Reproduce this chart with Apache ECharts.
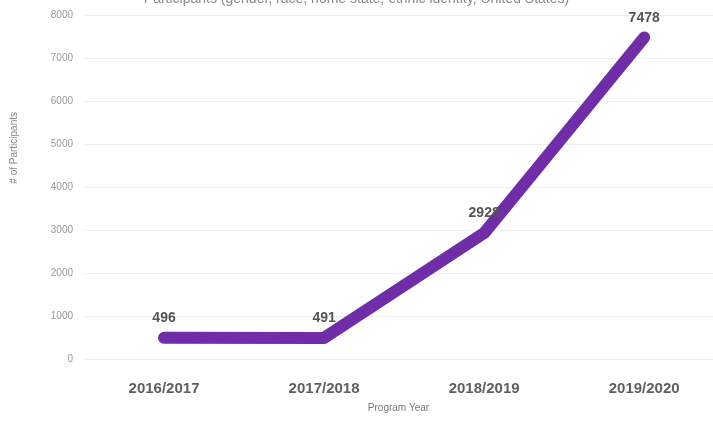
<!DOCTYPE html>
<html>
<head>
<meta charset="utf-8">
<script src="https://cdn.jsdelivr.net/npm/echarts@6/dist/echarts.min.js"></script>
<style>
  html, body { margin: 0; padding: 0; background: #fff; }
  #main { width: 713px; height: 425px; }
</style>
</head>
<body>
<div id="main"></div>
<script>
// program years and participant counts
var years = ["2016/2017", "2017/2018", "2018/2019", "2019/2020"];
var participants = [496, 491, 2928, 7478];
var yTicks = [0, 1000, 2000, 3000, 4000, 5000, 6000, 7000, 8000];

var points = participants.map(function (v, i) { return [i, v]; });

var chart = echarts.init(document.getElementById("main"));
chart.setOption({
  animation: false,
  title: {
    text: "Participants (gender, race, home state, ethnic identity, United States)",
    left: "center",
    top: -13,
    textStyle: { fontFamily: "Liberation Sans", fontSize: 14, fontWeight: "normal", color: "#8a8a8a" }
  },
  graphic: [{
    type: "text",
    left: 9,
    top: 112,
    rotation: Math.PI / 2,
    style: { text: "# of Participants", fontFamily: "Liberation Sans", fontSize: 10, fill: "#888" }
  }],
  grid: { left: 84, right: 0, top: 15, bottom: 66 },
  xAxis: {
    type: "value",
    min: -0.5,
    max: 3.43,
    name: "Program Year",
    nameLocation: "middle",
    nameGap: 44,
    nameTextStyle: { fontFamily: "Liberation Sans", fontSize: 10, color: "#777" },
    axisLine: { show: false },
    axisTick: { show: false },
    splitLine: { show: false },
    axisLabel: {
      customValues: [0, 1, 2, 3],
      formatter: function (v) { return years[v]; },
      margin: 22,
      fontFamily: "Liberation Sans",
      fontSize: 15,
      fontWeight: "bold",
      color: "#5f5f5f"
    }
  },
  yAxis: {
    type: "value",
    min: yTicks[0],
    max: yTicks[yTicks.length - 1],
    interval: 1000,
    axisLine: { show: false },
    axisTick: { show: false },
    axisLabel: {
      margin: 11,
      formatter: function (v) { return String(v); },
      fontFamily: "Liberation Sans",
      fontSize: 10,
      color: "#999"
    },
    splitLine: { lineStyle: { color: "#eeeeee", width: 1 } }
  },
  series: [{
    type: "line",
    data: points,
    symbol: "circle",
    symbolSize: 1,
    itemStyle: { color: "#6f2da8" },
    lineStyle: { color: "#6f2da8", width: 12, cap: "round", join: "round" },
    label: {
      show: true,
      position: "top",
      distance: 12,
      formatter: function (p) { return p.value[1]; },
      fontFamily: "Liberation Sans",
      fontSize: 14,
      fontWeight: "bold",
      color: "#555"
    }
  }]
});
</script>
</body>
</html>
